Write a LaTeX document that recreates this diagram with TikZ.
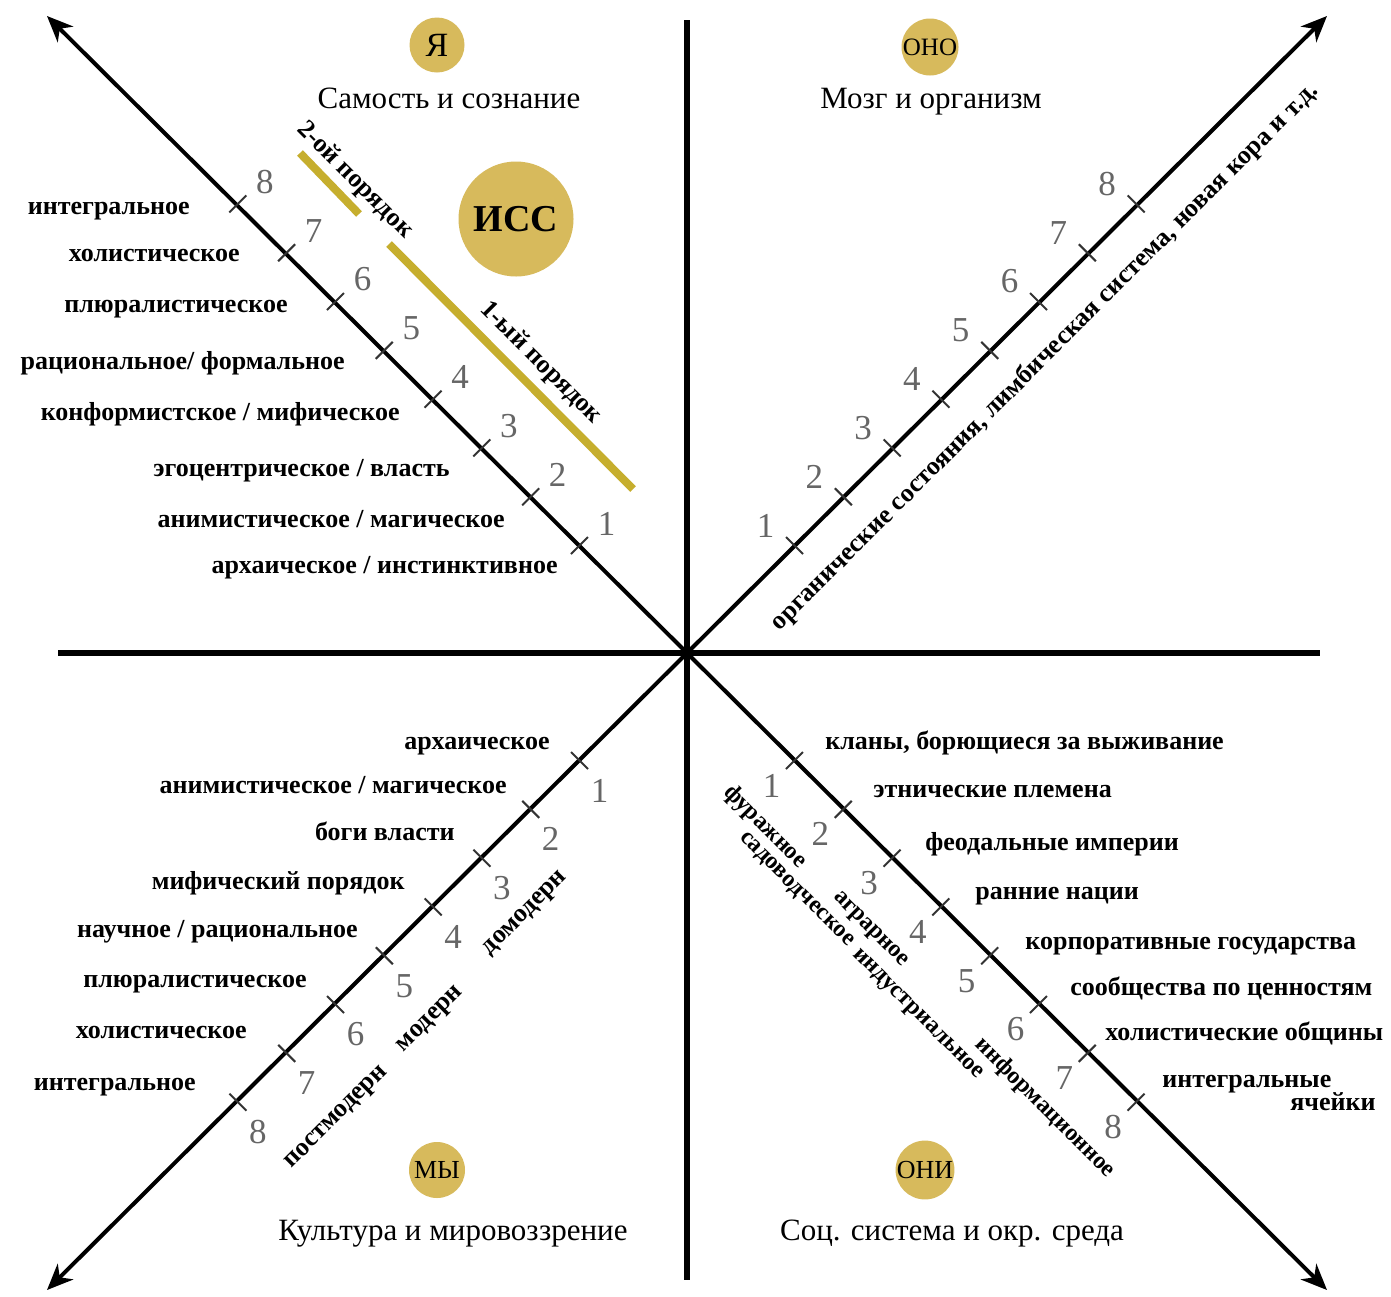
\documentclass[tikz,border=0pt]{standalone}
\usepackage{fontspec}
\setmainfont{Liberation Serif}
\usetikzlibrary{arrows.meta,calc}
\definecolor{gold}{HTML}{D7BA5C}
\definecolor{olivebar}{HTML}{C6AE2E}
\definecolor{numgray}{HTML}{666666}
\begin{document}
\begin{tikzpicture}[x=0.5pt,y=-0.5pt,
  lab/.style={font=\bfseries\fontsize{13}{15}\selectfont, inner sep=0pt, text height=9pt, text depth=2.5pt},
  rotlab/.style={font=\bfseries\fontsize{12}{14}\selectfont, inner sep=0pt},
  num/.style={font=\fontsize{17.5}{19}\selectfont, text=numgray, inner sep=0pt},
  ttl/.style={font=\fontsize{15.5}{18}\selectfont, inner sep=0pt, text height=10.5pt, text depth=3pt},
  disc/.style={circle, fill=gold, inner sep=0pt},
  axisline/.style={line width=3pt},
  diag/.style={line width=2pt, -{Stealth[length=13pt,width=11pt,inset=4pt]}},
  tickmark/.style={line width=1pt, draw=black!80},
  orderbar/.style={line width=4pt, draw=olivebar}
]
\useasboundingbox (0,0) rectangle (1391,1296);
\fill[white] (0,0) rectangle (1391,1296);

% axes
\coordinate (c) at (687,653);
\coordinate (vt) at (687,20);
\coordinate (vb) at (687,1280);
\coordinate (hl) at (58,653);
\coordinate (hr) at (1320,653);
\coordinate (ul) at (47,16);
\coordinate (ur) at (1327,16);
\coordinate (ll) at (47,1290);
\coordinate (lr) at (1327,1290);
\draw[axisline] (vt) -- (vb);
\draw[axisline] (hl) -- (hr);
\draw[diag] (c) -- (ul);
\draw[diag] (c) -- (ur);
\draw[diag] (c) -- (ll);
\draw[diag] (c) -- (lr);

% ticks and numbers
\foreach \k in {1,...,8}{
  \pgfmathsetmacro{\d}{107.5+48.8*(\k-1)}
  \draw[tickmark] ($(c)+(-\d-8.5,-\d+8.5)$) -- ($(c)+(-\d+8.5,-\d-8.5)$);
  \draw[tickmark] ($(c)+(\d-8.5,-\d-8.5)$) -- ($(c)+(\d+8.5,-\d+8.5)$);
  \draw[tickmark] ($(c)+(-\d-8.5,\d-8.5)$) -- ($(c)+(-\d+8.5,\d+8.5)$);
  \draw[tickmark] ($(c)+(\d-8.5,\d+8.5)$) -- ($(c)+(\d+8.5,\d-8.5)$);
  \node[num] (nul\k) at ($(c)+(-\d+27,-\d-22)$) {\k};
  \node[num] (nur\k) at ($(c)+(\d-29,-\d-20)$) {\k};
  \node[num] (nll\k) at ($(c)+(-\d+20,\d+30)$) {\k};
  \node[num] (nlr\k) at ($(c)+(\d-23,\d+25)$) {\k};
}

% quadrant discs and titles
\node[disc, minimum size=27.5pt, font=\fontsize{17}{19}\selectfont] (ya) at (437,45) {Я};
\node[disc, minimum size=28.5pt, font=\fontsize{12.5}{14}\selectfont] (ono) at (930,47) {ОНО};
\node[disc, minimum size=57.5pt, font=\bfseries\fontsize{19}{21}\selectfont] (iss) at (516,219) {ИСС};
\node[disc, minimum size=28pt, font=\fontsize{13}{15}\selectfont] (my) at (437,1170) {МЫ};
\node[disc, minimum size=28pt, font=\fontsize{13}{15}\selectfont] (oni) at (925,1170) {ОНИ};

\node[ttl] (t1) at (449,101) {Самость и сознание};
\node[ttl] (t2) at (931,101) {Мозг и организм};
\node[ttl] (t3) at (453,1233) {Культура и мировоззрение};
\node[ttl] (t4) at (952,1233) {Соц. система и окр. среда};

% order bars
\coordinate (b1s) at (300,153);
\coordinate (b1e) at (359,214);
\coordinate (b2s) at (389,244);
\coordinate (b2e) at (633,489);
\draw[orderbar] (b1s) -- (b1e);
\draw[orderbar] (b2s) -- (b2e);
\node[lab, rotate=-45] (o2) at (355,180) {2-ой порядок};
\node[lab, rotate=-45] (o1) at (541,363) {1-ый порядок};

% upper-left labels
\node[lab, anchor=east] (a8) at (190,208) {интегральное};
\node[lab, anchor=east] (a7) at (240,255) {холистическое};
\node[lab, anchor=east] (a6) at (288,306) {плюралистическое};
\node[lab, anchor=east] (a5) at (345,363) {рациональное/ формальное};
\node[lab, anchor=east] (a4) at (400,414) {конформистское / мифическое};
\node[lab, anchor=east] (a3) at (450,470) {эгоцентрическое / власть};
\node[lab, anchor=east] (a2) at (505,521) {анимистическое / магическое};
\node[lab, anchor=east] (a1) at (558,567) {архаическое / инстинктивное};

% upper-right label
\node[lab, rotate=45] (org) at (1045,357) {органические состояния, лимбическая система, новая кора и т.д.};

% lower-left labels
\node[lab, anchor=east] (w1) at (550,743) {архаическое};
\node[lab, anchor=east] (w2) at (507,787) {анимистическое / магическое};
\node[lab, anchor=east] (w3) at (455,834) {боги власти};
\node[lab, anchor=east] (w4) at (405,883) {мифический порядок};
\node[lab, anchor=east] (w5) at (358,931) {научное / рациональное};
\node[lab, anchor=east] (w6) at (307,981) {плюралистическое};
\node[lab, anchor=east] (w7) at (247,1032) {холистическое};
\node[lab, anchor=east] (w8) at (196,1084) {интегральное};
\node[lab, rotate=45] (pre) at (524,912) {домодерн};
\node[lab, rotate=45] (mod) at (429,1018) {модерн};
\node[lab, rotate=45] (post) at (335,1116) {постмодерн};

% lower-right labels
\node[lab, anchor=west] (s1) at (825,743) {кланы, борющиеся за выживание};
\node[lab, anchor=west] (s2) at (873,791) {этнические племена};
\node[lab, anchor=west] (s3) at (925,844) {феодальные империи};
\node[lab, anchor=west] (s4) at (975,893) {ранние нации};
\node[lab, anchor=west] (s5) at (1025,943) {корпоративные государства};
\node[lab, anchor=west] (s6) at (1070,989) {сообщества по ценностям};
\node[lab, anchor=west] (s7) at (1105,1034) {холистические общины};
\node[lab, anchor=west] (s8a) at (1162,1081) {интегральные};
\node[lab, anchor=east] (s8b) at (1376,1104) {ячейки};
\node[rotlab, rotate=-45] (f1) at (765,827) {фуражное};
\node[rotlab, rotate=-45] (f2) at (796,890) {садоводческое};
\node[rotlab, rotate=-45] (f3) at (870,930) {аграрное};
\node[rotlab, rotate=-45] (f4) at (917,1015) {индустриальное};
\node[rotlab, rotate=-45] (f5) at (1045,1108) {информационное};
\end{tikzpicture}
\end{document}
